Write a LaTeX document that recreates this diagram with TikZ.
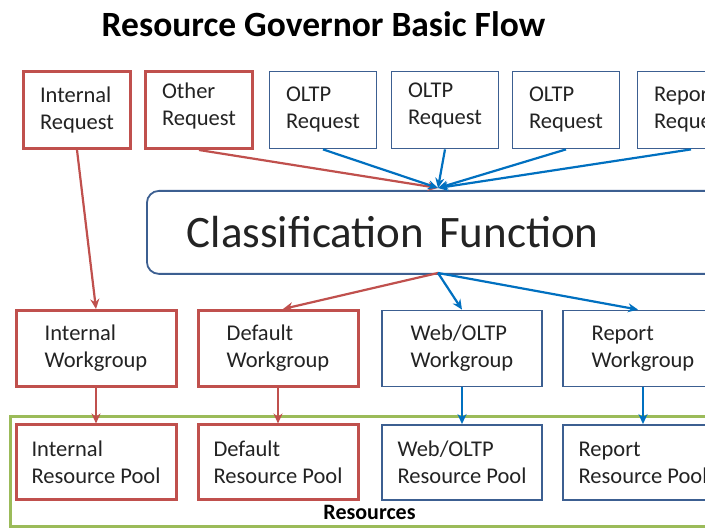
\documentclass[tikz,border=0pt]{standalone}
\usepackage{fontspec}
\setmainfont{Carlito}
\usetikzlibrary{arrows.meta}
\definecolor{boxred}{RGB}{192,80,77}
\definecolor{boxblue}{RGB}{60,95,145}
\definecolor{arrblue}{RGB}{0,112,192}
\definecolor{resgreen}{RGB}{155,187,89}
\definecolor{txt}{RGB}{35,35,35}
\tikzset{
  base/.style={draw, rectangle, fill=white, align=left, text=txt,
    font=\fontsize{22.5}{27}\selectfont, inner sep=0pt},
  redbox/.style={base, draw=boxred, line width=3pt},
  bluebox/.style={base, draw=boxblue, line width=1.8pt},
  topbox/.style={minimum width=107, minimum height=77},
  lowbox/.style={minimum width=160, minimum height=76},
  redarr/.style={draw=boxred, line width=2.2pt, -{Stealth[length=10pt,width=9pt]}},
  bluearr/.style={draw=arrblue, line width=2.2pt, -{Stealth[length=10pt,width=9pt]}},
}
\begin{document}
\begin{tikzpicture}[x=1pt,y=-1pt]
\useasboundingbox (0,0) rectangle (705,529);
\clip (0,0) rectangle (705,529);
\fill[white] (0,0) rectangle (705,529);
% title
\node[anchor=base, font=\fontsize{35.5}{40}\selectfont\bfseries, text=black] (title) at (323.5,37) {Resource Governor Basic Flow};
% resources frame
\draw[resgreen, line width=3pt] (10,417) rectangle (780,527);
\node[anchor=base, font=\fontsize{22}{24}\selectfont\bfseries, text=black] (reslbl) at (369.5,520) {Resources};
% top row
\node[redbox, topbox] (ir) at (77,110) {Internal\\Request};
\node[redbox, topbox] (or) at (199,110) {Other\\Request\\[-22.6pt]\strut};
\node[bluebox, topbox] (o1) at (323,110) {OLTP\\Request};
\node[bluebox, topbox] (o2) at (445,110) {OLTP\\Request\\[-22.6pt]\strut};
\node[bluebox, topbox] (o3) at (566,110) {OLTP\\Request};
\node[bluebox, topbox] (rr) at (691,110) {Report\\Request};
% classification function
\node[draw=boxblue, line width=1.8pt, rounded corners=12pt, fill=white, anchor=north west,
  text width=560, inner xsep=40, inner ysep=0pt, minimum height=83, align=left, text=txt,
  font=\fontsize{45}{50}\selectfont] (cf) at (146,190) {Classification Function};
\coordinate (cin) at (438,188);
\coordinate (cout) at (438,273);
% workgroups
\node[redbox, lowbox] (iw) at (96,348.5) {Internal\\Workgroup};
\node[redbox, lowbox] (dw) at (278,348.5) {Default\\Workgroup};
\node[bluebox, lowbox] (ww) at (462,348.5) {Web/OLTP\\Workgroup};
\node[bluebox, lowbox] (rw) at (643,348.5) {Report\\Workgroup};
% pools
\node[redbox, lowbox, minimum height=75] (ip) at (96,462.5) {Internal\\Resource Pool};
\node[redbox, lowbox, minimum height=75] (dp) at (278,462.5) {Default\\Resource Pool};
\node[bluebox, lowbox, minimum height=75] (wp) at (462,462.5) {Web/OLTP\\Resource Pool};
\node[bluebox, lowbox, minimum height=75] (rp) at (643,462.5) {Report\\Resource Pool};
% arrows
\draw[redarr] (ir.south) -- (iw.north);
\draw[redarr] (or.south) -- (cin);
\draw[bluearr] (o1.south) -- (cin);
\draw[bluearr] (o2.south) -- (cin);
\draw[bluearr] (o3.south) -- (cin);
\draw[bluearr] (rr.south) -- (cin);
\draw[redarr] (cout) -- ([xshift=5pt]dw.north);
\draw[bluearr] (cout) -- (ww.north);
\draw[bluearr] (cout) -- ([xshift=-5pt]rw.north);
\draw[redarr] (iw.south) -- (ip.north);
\draw[redarr] (dw.south) -- (dp.north);
\draw[bluearr] (ww.south) -- (wp.north);
\draw[bluearr] (rw.south) -- (rp.north);
\end{tikzpicture}
\end{document}
